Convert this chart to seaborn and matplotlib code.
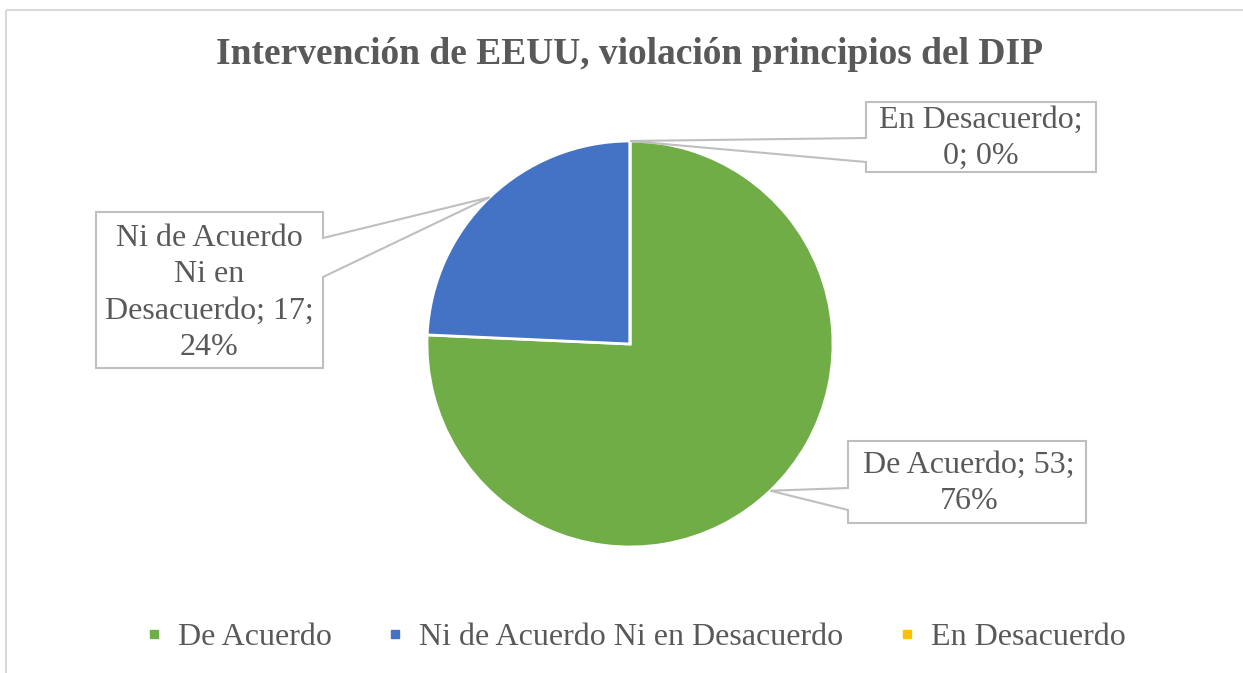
import numpy as np
import matplotlib
matplotlib.use("Agg")
import matplotlib.pyplot as plt
from matplotlib.patches import Polygon, Rectangle
from matplotlib.lines import Line2D
from matplotlib.transforms import Affine2D
import seaborn as sns

categories = ["De Acuerdo", "Ni de Acuerdo Ni en Desacuerdo", "En Desacuerdo"]
values = [53, 17, 0]
percents = ["76%", "24%", "0%"]
label_texts = ["De Acuerdo; 53;\n76%", "Ni de Acuerdo\nNi en\nDesacuerdo; 17;\n24%", "En Desacuerdo;\n0; 0%"]
colors = ["#70AD47", "#4472C4", "#FFC000"]
title = "Intervención de EEUU, violación principios del DIP"

sns.set_theme(style="white")
plt.rcParams["font.family"] = ["Liberation Serif", "DejaVu Serif"]
palette = sns.color_palette(colors)

W, H = 1243, 673
fig = plt.figure(figsize=(W / 100, H / 100), dpi=100)
fig.patch.set_facecolor("white")
px = Affine2D().scale(1, -1).translate(0, H)  # pixel coords, origin top-left

# outer border
fig.add_artist(Rectangle((6, 10), 1300, 700, transform=px, fill=False,
                         edgecolor="#D9D9D9", lw=1.5, zorder=0))

# pie axes (square, 406 px)
cx, cy, r = 630, 344, 203
ax = fig.add_axes([(cx - r) / W, (H - cy - r) / H, 2 * r / W, 2 * r / H])
wedges, _ = ax.pie(values, colors=palette, startangle=90, counterclock=False,
                   radius=1, wedgeprops=dict(edgecolor="white", linewidth=2))
ax.set_xlim(-1, 1)
ax.set_ylim(-1, 1)
ax.set_aspect("equal")
ax.axis("off")

# anchor points at mid-angle of each wedge on the rim
total = sum(values)
cum = np.cumsum([0] + values)
anchors = []
for i in range(len(values)):
    mid = (cum[i] + cum[i + 1]) / 2 / total * 2 * np.pi
    xd, yd = np.sin(mid), np.cos(mid)
    disp = ax.transData.transform((xd, yd))
    anchors.append((disp[0], H - disp[1]))

grey = "#BFBFBF"
txtc = "#595959"

# callout 0: De Acuerdo (pointer on left side)
a = anchors[0]
poly0 = [(848, 441), (1086, 441), (1086, 523), (848, 523), (848, 510), a, (848, 488)]
# callout 1: Ni de Acuerdo... (pointer on right side)
a = anchors[1]
poly1 = [(96, 212), (323, 212), (323, 238), a, (323, 277), (323, 368), (96, 368)]
# callout 2: En Desacuerdo (pointer on left side)
a = anchors[2]
poly2 = [(866, 102), (1096, 102), (1096, 172), (866, 172), (866, 162), a, (866, 138)]

centers = [(969, 483), (209, 293), (981, 138)]
for poly, txt, c in zip([poly0, poly1, poly2], label_texts, centers):
    fig.add_artist(Polygon(poly, closed=True, transform=px, facecolor="white",
                           edgecolor=grey, lw=1.5, zorder=3))
    fig.text(c[0], c[1], txt, transform=px, ha="center", va="center",
             fontsize=23, color=txtc, linespacing=1.32, zorder=4)

# title
fig.text(630, 54, title, transform=px, ha="center", va="center",
         fontsize=27, fontweight="bold", color=txtc)

# legend
handles = [Line2D([], [], marker="s", linestyle="none", markersize=6,
                  markerfacecolor=col, markeredgecolor=col) for col in palette]
leg = fig.legend(handles, categories, loc="center",
                 bbox_to_anchor=(0.5 + 12 / W, 1 - 637 / H),
                 ncol=3, frameon=False, fontsize=23, handlelength=0.8,
                 handletextpad=0.35, columnspacing=1.6)
for t in leg.get_texts():
    t.set_color(txtc)

fig.savefig("out.png", dpi=100, facecolor="white")
